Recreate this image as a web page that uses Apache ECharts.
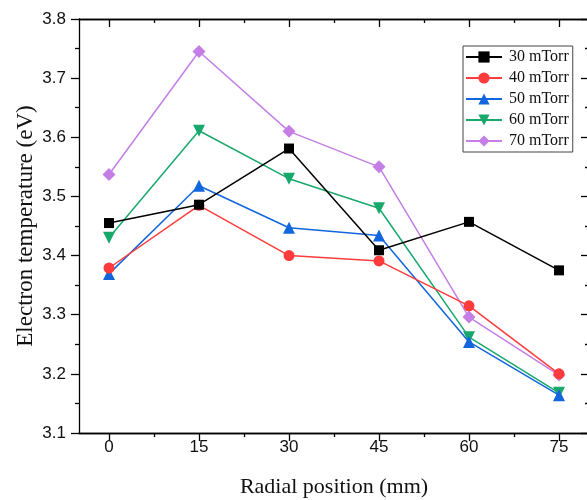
<!DOCTYPE html>
<html>
<head>
<meta charset="utf-8">
<script src="https://cdn.jsdelivr.net/npm/echarts@6/dist/echarts.min.js"></script>
<style>
  html, body { margin: 0; padding: 0; background: #fff; }
  #chart { width: 587px; height: 500px; }
</style>
</head>
<body>
<div id="chart"></div>
<script>
// radial positions (mm)
var positions = [0, 15, 30, 45, 60, 75];
var minorPos = [7.5, 22.5, 37.5, 52.5, 67.5];

// electron temperature (eV) per pressure
var t30 = [3.455, 3.486, 3.581, 3.409, 3.457, 3.375];
var t40 = [3.379, 3.485, 3.400, 3.391, 3.315, 3.200];
var t50 = [3.369, 3.518, 3.447, 3.434, 3.254, 3.164];
var t60 = [3.430, 3.611, 3.530, 3.480, 3.262, 3.168];
var t70 = [3.537, 3.745, 3.610, 3.550, 3.296, 3.198];

var names = ['30 mTorr', '40 mTorr', '50 mTorr', '60 mTorr', '70 mTorr'];
var colors = ['#000000', '#ff3b3b', '#1166dd', '#18a86c', '#c47ee6'];
var symbols = ['rect', 'circle', 'triangle', 'triangle', 'diamond'];
var rotates = [0, 0, 0, 180, 0];
var sizes = [10, 11, 12, 12, 13];
var allData = [t30, t40, t50, t60, t70];

var chart = echarts.init(document.getElementById('chart'));

function pairs(arr) {
  return arr.map(function (v, i) { return [positions[i], v]; });
}

var lineStyle = { color: '#000', width: 1.3 };
var serif = '"Liberation Serif", "Times New Roman", serif';
var sans = '"Liberation Sans", Arial, sans-serif';

function xAx(pos, ticks, len, inside, labels) {
  return {
    type: 'value', position: pos, min: -5, max: 80,
    splitLine: { show: false },
    axisLine: { show: true, onZero: false, lineStyle: lineStyle },
    axisTick: { show: true, inside: inside, length: len, customValues: ticks, lineStyle: lineStyle },
    axisLabel: labels ? { show: true, customValues: ticks, fontSize: 17, color: '#111', fontFamily: sans, margin: 6 } : { show: false }
  };
}

var series = names.map(function (n, i) {
  return {
    name: n, type: 'line',
    data: pairs(allData[i]),
    symbol: symbols[i], symbolSize: sizes[i], symbolRotate: rotates[i],
    showAllSymbol: true,
    itemStyle: { color: colors[i] },
    lineStyle: { color: colors[i], width: 1.5 },
    z: 5 - i
  };
});

chart.setOption({
  animation: false,
  backgroundColor: '#fff',
  grid: { left: 79, right: -2, top: 19, bottom: 67, outerBoundsMode: 'none', containLabel: false },
  legend: {
    data: names,
    orient: 'vertical',
    left: 463, top: 46,
    width: 109,
    padding: [3, 4, 3, 2],
    itemWidth: 36, itemHeight: 14, itemGap: 5,
    borderColor: '#444', borderWidth: 1,
    backgroundColor: '#fff',
    textStyle: { fontFamily: serif, fontSize: 16, color: '#111', padding: [0, 0, 0, 2] }
  },
  xAxis: [
    Object.assign(xAx('bottom', positions, 8, false, true), {
      name: 'Radial position (mm)', nameLocation: 'middle', nameGap: 43, nameMoveOverlap: false,
      nameTextStyle: { fontFamily: serif, fontSize: 22, color: '#111' }
    }),
    xAx('bottom', minorPos, 4, false, false),
    xAx('top', positions, 8, true, false),
    xAx('top', minorPos, 4, true, false)
  ],
  yAxis: [
    {
      type: 'value', position: 'left', min: 3.1, max: 3.8, interval: 0.1,
      name: 'Electron temperature (eV)', nameLocation: 'middle', nameGap: 42, nameMoveOverlap: false,
      nameTextStyle: { fontFamily: serif, fontSize: 23, color: '#111' },
      splitLine: { show: false },
      axisLine: { show: true, onZero: false, lineStyle: lineStyle },
      axisTick: { show: true, inside: false, length: 8, lineStyle: lineStyle },
      minorTick: { show: true, splitNumber: 2, length: 4, lineStyle: lineStyle },
      minorSplitLine: { show: false },
      axisLabel: { fontSize: 17, color: '#111', fontFamily: sans, margin: 13,
        formatter: function (v) { return v.toFixed(1); } }
    },
    {
      type: 'value', position: 'right', min: 3.1, max: 3.8, interval: 0.1,
      splitLine: { show: false },
      axisLine: { show: true, onZero: false, lineStyle: lineStyle },
      axisTick: { show: true, inside: true, length: 8, lineStyle: lineStyle },
      minorTick: { show: true, splitNumber: 2, length: 4, lineStyle: lineStyle },
      axisLabel: { show: false }
    }
  ],
  series: series
});
</script>
</body>
</html>
